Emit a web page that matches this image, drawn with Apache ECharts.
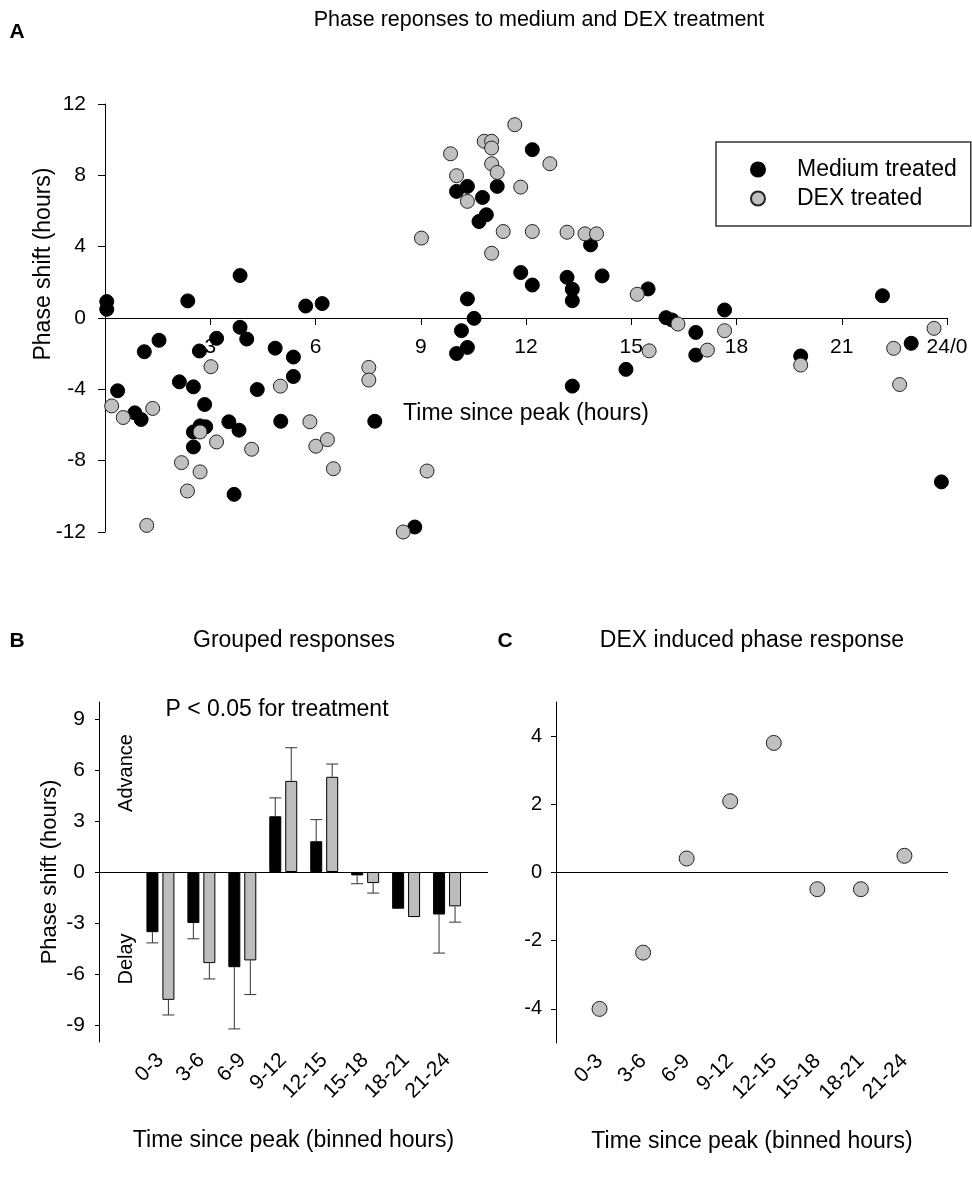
<!DOCTYPE html>
<html><head><meta charset="utf-8">
<script src="https://cdn.jsdelivr.net/npm/echarts@6/dist/echarts.min.js"></script>
<style>html,body{margin:0;padding:0;background:#fff}#c{width:972px;height:1178px}</style>
</head><body><div id="c"></div>
<script>
const FONT = '"Liberation Sans", Arial, Helvetica, sans-serif';

// ---------- Panel A data ----------
const medX = [0.05,0.05,2.36,3.85,5.72,6.19,3.85,4.04,3.18,1.54,1.12,2.69,4.85,5.37,5.37,4.34,2.12,2.52,0.36,2.84,0.85,1.03,3.53,5.01,7.69,2.71,2.87,2.52,3.82,2.52,3.68,
  10.02,10.33,10.76,10.66,10.87,11.18,12.18,11.85,12.18,13.17,13.32,13.32,13.84,14.17,15.48,10.33,10.52,10.16,10.02,10.33,13.32,14.85,15.99,16.16,16.84,16.84,8.83,
  17.66,19.83,22.16,22.98,23.84];
const medY = [0.92,0.49,0.96,2.38,0.67,0.81,-0.52,-1.18,-1.14,-1.25,-1.89,-1.85,-1.69,-2.19,-3.28,-4.01,-3.58,-3.86,-4.08,-4.85,-5.32,-5.69,-5.82,-5.79,-5.79,-6.05,-6.10,-6.39,-6.29,-7.23,-9.89,
  7.10,7.38,6.76,5.41,5.79,7.38,9.44,2.55,1.85,2.28,1.61,0.97,4.10,2.36,1.63,1.07,-0.02,-0.71,-1.99,-1.65,-3.82,-2.88,0.02,-0.11,-0.81,-2.08,-11.72,
  0.45,-2.13,1.25,-1.42,-9.19];
const dexX = [0.19,0.52,1.36,3.02,5.00,7.52,7.52,2.71,3.18,4.18,5.84,6.01,6.34,6.51,2.18,2.71,2.35,1.19,
  9.02,9.85,10.02,10.33,10.81,11.02,11.02,11.02,11.18,11.02,11.35,11.68,11.85,12.18,12.68,13.17,13.68,14.01,15.17,15.51,16.33,17.17,8.50,9.18,
  17.66,19.83,22.48,22.65,23.63];
const dexY = [-4.93,-5.58,-5.07,-2.73,-3.82,-2.77,-3.48,-6.39,-6.95,-7.36,-5.82,-7.19,-6.82,-8.45,-8.11,-8.63,-9.70,-11.63,
  4.48,9.21,7.98,6.54,9.91,9.91,9.53,8.65,8.16,3.63,4.85,10.84,7.34,4.85,8.65,4.81,4.72,4.72,1.33,-1.84,-0.34,-1.80,-12.0,-8.58,
  -0.71,-2.64,-1.70,-3.73,-0.58];
const aXTickLabels = ['', '3', '6', '9', '12', '15', '18', '21', '24/0'];

// ---------- Panel B data ----------
const bins = ['0-3','3-6','6-9','9-12','12-15','15-18','18-21','21-24'];
const medMean = [-3.54,-3.0,-5.6,3.28,1.81,-0.2,-2.16,-2.5];
const medSem  = [0.63,0.93,3.63,1.08,1.27,0.49,0,2.27];
const dexMean = [-7.52,-5.36,-5.2,5.36,5.6,-0.65,-2.65,-2.02];
const dexSem  = [0.89,0.93,2.01,1.95,0.75,0.59,0,0.93];
const bYTicks = [-9,-6,-3,0,3,6,9];

// ---------- Panel C data ----------
const dexInduced = [-4.0,-2.35,0.41,2.09,3.80,-0.49,-0.49,0.49];
const cYTicks = [-4,-2,0,2,4];

const binPos = bins.map((b, i) => i + 1);

const chart = echarts.init(document.getElementById('c'), null, {renderer: 'canvas'});

const axisLineStyle = {color: '#000', width: 1};
const txt = (size) => ({fontFamily: FONT, fontSize: size, color: '#000'});

// panel A plot height; the x axis is drawn at the middle (value 0)
const A_HEIGHT = 428;

function errRender(offset) {
  return function (params, api) {
    const x = api.value(0), v = api.value(1), e = api.value(2);
    if (e === v) return null;
    const p1 = api.coord([x, v]);
    const p2 = api.coord([x, e]);
    const cx = p1[0] + offset;
    return {
      type: 'group',
      children: [
        {type: 'line', shape: {x1: cx, y1: p1[1], x2: cx, y2: p2[1]}, style: {stroke: '#333', lineWidth: 1}},
        {type: 'line', shape: {x1: cx - 6, y1: p2[1], x2: cx + 6, y2: p2[1]}, style: {stroke: '#333', lineWidth: 1}}
      ]
    };
  };
}

const option = {
  animation: false,
  backgroundColor: '#fff',
  textStyle: {fontFamily: FONT},
  grid: [
    {left: 105, top: 104, width: 842, height: A_HEIGHT, outerBoundsMode: 'none', containLabel: false},
    {left: 99, top: 702, width: 389, height: 340, outerBoundsMode: 'none', containLabel: false},
    {left: 556, top: 702, width: 392, height: 341, outerBoundsMode: 'none', containLabel: false}
  ],
  xAxis: [
    {
      gridIndex: 0, type: 'value', min: 0, max: 24, interval: 3,
      offset: -A_HEIGHT / 2,
      axisLine: {show: true, onZero: false, lineStyle: axisLineStyle},
      axisTick: {show: true, length: 7, lineStyle: axisLineStyle},
      axisLabel: Object.assign(txt(21), {margin: 19, formatter: v => aXTickLabels[Math.round(v / 3)]}),
      splitLine: {show: false},
      name: 'Time since peak (hours)', nameLocation: 'middle', nameGap: 84,
      nameTextStyle: txt(23)
    },
    {
      gridIndex: 1, type: 'value', min: -0.5, max: 9,
      axisLine: {show: false, onZero: false},
      axisTick: {show: false},
      axisLabel: Object.assign(txt(21), {rotate: 45, margin: 15, customValues: binPos, formatter: v => bins[Math.round(v) - 1] || ''}),
      splitLine: {show: false},
      name: 'Time since peak (binned hours)', nameLocation: 'middle', nameGap: 87,
      nameTextStyle: txt(23)
    },
    {
      gridIndex: 2, type: 'value', min: 0, max: 9,
      axisLine: {show: false, onZero: false},
      axisTick: {show: false},
      axisLabel: Object.assign(txt(21), {rotate: 45, margin: 15, customValues: binPos, formatter: v => bins[Math.round(v) - 1] || ''}),
      splitLine: {show: false},
      name: 'Time since peak (binned hours)', nameLocation: 'middle', nameGap: 87,
      nameTextStyle: txt(23)
    }
  ],
  yAxis: [
    {
      gridIndex: 0, type: 'value', min: -12, max: 12, interval: 4,
      axisLine: {show: true, onZero: false, lineStyle: axisLineStyle},
      axisTick: {show: true, length: 7, lineStyle: axisLineStyle},
      axisLabel: Object.assign(txt(21), {margin: 19}),
      splitLine: {show: false}
    },
    {
      gridIndex: 1, type: 'value', min: -10, max: 10,
      axisLine: {show: true, onZero: false, lineStyle: axisLineStyle},
      axisTick: {show: true, length: 4, lineStyle: axisLineStyle, customValues: bYTicks},
      axisLabel: Object.assign(txt(21), {margin: 14, customValues: bYTicks}),
      splitLine: {show: false},
      name: 'Phase shift (hours)', nameLocation: 'middle', nameGap: 38,
      nameTextStyle: txt(22)
    },
    {
      gridIndex: 2, type: 'value', min: -5, max: 5,
      axisLine: {show: true, onZero: false, lineStyle: axisLineStyle},
      axisTick: {show: true, length: 5, lineStyle: axisLineStyle, customValues: cYTicks},
      axisLabel: Object.assign(txt(20), {margin: 14, customValues: cYTicks}),
      splitLine: {show: false}
    }
  ],
  legend: {
    data: ['Medium treated', 'DEX treated'],
    orient: 'vertical',
    left: 716, top: 142,
    padding: [16, 14, 16, 34],
    borderColor: '#333', borderWidth: 1.5,
    itemWidth: 14, itemHeight: 14, itemGap: 6,
    textStyle: Object.assign(txt(23), {lineHeight: 23, padding: [0, 0, 0, 27]}),
    selectedMode: false
  },
  graphic: [
    {type: 'text', x: 17, y: 32, style: {text: 'A', fontFamily: FONT, fontSize: 21, fontWeight: 'bold', fill: '#000', align: 'center', verticalAlign: 'middle'}},
    {type: 'text', x: 539, y: 20, style: {text: 'Phase reponses to medium and DEX treatment', fontFamily: FONT, fontSize: 21.5, fill: '#000', align: 'center', verticalAlign: 'middle'}},
    {type: 'text', x: 44, y: 264, rotation: Math.PI / 2, style: {text: 'Phase shift (hours)', fontFamily: FONT, fontSize: 23, fill: '#000', align: 'center', verticalAlign: 'middle'}},
    {type: 'text', x: 17, y: 641, style: {text: 'B', fontFamily: FONT, fontSize: 21, fontWeight: 'bold', fill: '#000', align: 'center', verticalAlign: 'middle'}},
    {type: 'text', x: 294, y: 641, style: {text: 'Grouped responses', fontFamily: FONT, fontSize: 23, fill: '#000', align: 'center', verticalAlign: 'middle'}},
    {type: 'text', x: 277, y: 710, style: {text: 'P < 0.05 for treatment', fontFamily: FONT, fontSize: 23, fill: '#000', align: 'center', verticalAlign: 'middle'}},
    {type: 'text', x: 126, y: 773, rotation: Math.PI / 2, style: {text: 'Advance', fontFamily: FONT, fontSize: 20, fill: '#000', align: 'center', verticalAlign: 'middle'}},
    {type: 'text', x: 126, y: 959, rotation: Math.PI / 2, style: {text: 'Delay', fontFamily: FONT, fontSize: 20, fill: '#000', align: 'center', verticalAlign: 'middle'}},
    {type: 'text', x: 505, y: 641, style: {text: 'C', fontFamily: FONT, fontSize: 21, fontWeight: 'bold', fill: '#000', align: 'center', verticalAlign: 'middle'}},
    {type: 'text', x: 752, y: 641, style: {text: 'DEX induced phase response', fontFamily: FONT, fontSize: 23, fill: '#000', align: 'center', verticalAlign: 'middle'}}
  ],
  series: [
    {
      name: 'Medium treated', type: 'scatter', xAxisIndex: 0, yAxisIndex: 0,
      symbol: 'circle', symbolSize: 14,
      itemStyle: {color: '#000', borderColor: '#000', borderWidth: 1, opacity: 1},
      data: medX.map((x, i) => [x, medY[i]]), z: 3
    },
    {
      name: 'DEX treated', type: 'scatter', xAxisIndex: 0, yAxisIndex: 0,
      symbol: 'circle', symbolSize: 14,
      itemStyle: {color: '#c0c0c0', borderColor: '#222', borderWidth: 1, opacity: 1},
      data: dexX.map((x, i) => [x, dexY[i]]), z: 4
    },
    {
      name: 'B medium', type: 'bar', xAxisIndex: 1, yAxisIndex: 1,
      barWidth: 12, barGap: '33%',
      itemStyle: {color: '#000', borderColor: '#000', borderWidth: 1},
      data: binPos.map((x, i) => [x, medMean[i]]),
      markLine: {silent: true, symbol: 'none', label: {show: false},
        lineStyle: {color: '#000', width: 1, type: 'solid'}, data: [{yAxis: 0}]}
    },
    {
      name: 'B dex', type: 'bar', xAxisIndex: 1, yAxisIndex: 1,
      barWidth: 12, barGap: '33%',
      itemStyle: {color: '#bdbdbd', borderColor: '#000', borderWidth: 1},
      data: binPos.map((x, i) => [x, dexMean[i]])
    },
    {
      name: 'B medium err', type: 'custom', xAxisIndex: 1, yAxisIndex: 1, z: 5,
      renderItem: errRender(-8),
      data: binPos.map((x, i) => [x, medMean[i], medMean[i] + Math.sign(medMean[i]) * medSem[i]])
    },
    {
      name: 'B dex err', type: 'custom', xAxisIndex: 1, yAxisIndex: 1, z: 5,
      renderItem: errRender(8),
      data: binPos.map((x, i) => [x, dexMean[i], dexMean[i] + Math.sign(dexMean[i]) * dexSem[i]])
    },
    {
      name: 'C dex induced', type: 'scatter', xAxisIndex: 2, yAxisIndex: 2,
      symbol: 'circle', symbolSize: 15,
      itemStyle: {color: '#c0c0c0', borderColor: '#222', borderWidth: 1, opacity: 1},
      data: binPos.map((x, i) => [x, dexInduced[i]]),
      markLine: {silent: true, symbol: 'none', label: {show: false},
        lineStyle: {color: '#000', width: 1, type: 'solid'}, data: [{yAxis: 0}]}
    }
  ]
};
chart.setOption(option);
</script>
</body></html>
